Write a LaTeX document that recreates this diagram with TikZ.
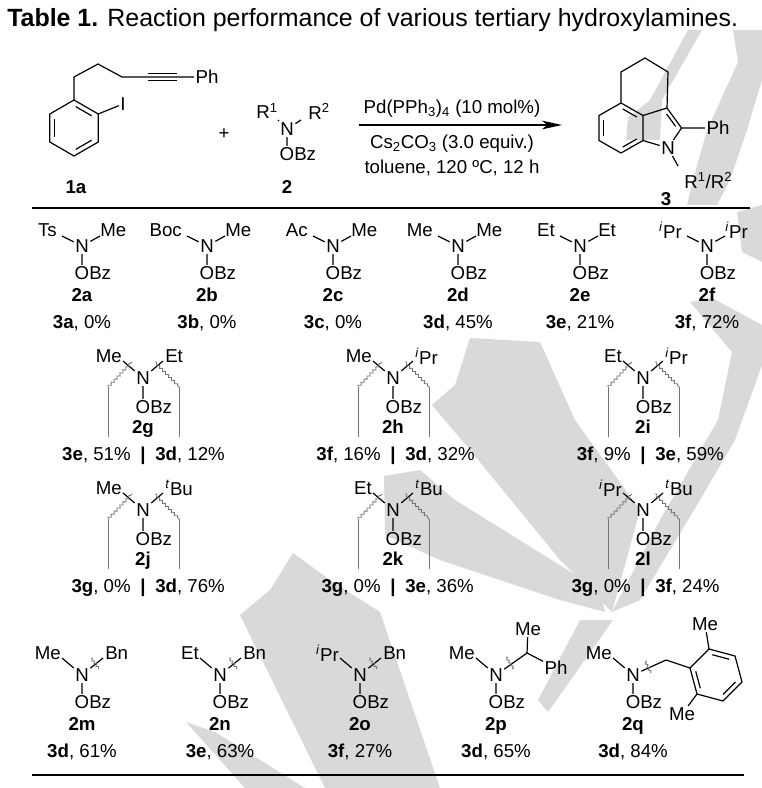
\documentclass[tikz,border=0pt]{standalone}
\usepackage{fontspec}
\setmainfont{Liberation Sans}
\usetikzlibrary{calc,arrows.meta,decorations.pathmorphing}

\tikzset{
  atom/.style={inner sep=1pt},
  lab/.style={inner sep=0pt},
  bond/.style={line width=0.9pt},
  dbl/.style={line width=0.9pt, shorten <=1.5pt, shorten >=1.5pt},
  brk/.style={draw=black!55, line width=0.6pt},
  wav/.style={draw=black!55, line width=0.6pt, decorate,
    decoration={snake, amplitude=0.9pt, segment length=3.2pt}},
  wm/.style={fill=black!15, draw=none},
}

% hydroxylamine, flat bonds (first row)
\newcommand{\hxflat}[7]{%
  \node[atom] (#1N) at (#2,#3) {N};
  \node[atom] (#1O) at (#2,#3+27) {O\rlap{Bz}};
  \node[lab,anchor=east] (#1L) at (#2-25,#3-16) {#4};
  \node[lab,anchor=west] (#1R) at (#2+18,#3-16) {#5};
  \coordinate (#1l) at (#2-20,#3-10);
  \coordinate (#1r) at (#2+18,#3-10);
  \draw[bond] (#1N) -- (#1l) (#1N) -- (#1r) (#1N) -- (#1O);
  \node[lab,anchor=base] (#1c) at (#2,#3+55) {\textbf{#6}};
  \node[lab,anchor=base] (#1y) at (#2,#3+82) {#7};
}

% hydroxylamine with two cleavage brackets
\newcommand{\hxpair}[8]{%
  \node[atom] (#1N) at (#2,#3) {N};
  \node[atom] (#1O) at (#2,#3+29) {O\rlap{Bz}};
  \node[lab,anchor=east] (#1L) at (#2-21,#3-22) {#4};
  \node[lab,anchor=west] (#1R) at (#2+22,#3-22) {#5};
  \coordinate (#1l) at (#2-20,#3-17);
  \coordinate (#1r) at (#2+20,#3-17);
  \draw[bond] (#1N) -- (#1l) (#1N) -- (#1r) (#1N) -- (#1O);
  \coordinate (#1wl) at (#2-35,#3+9);
  \coordinate (#1wr) at (#2+36,#3+9);
  \coordinate (#1tl) at (#2-11,#3-16);
  \coordinate (#1tr) at (#2+12,#3-16);
  \coordinate (#1bl) at (#2-35,#3+59);
  \coordinate (#1br) at (#2+36,#3+59);
  \draw[wav] (#1wl) -- (#1tl);
  \draw[wav] (#1tr) -- (#1wr);
  \draw[brk] (#1wl) -- (#1bl) (#1wr) -- (#1br);
  \node[lab,anchor=base] (#1c) at (#2,#3+55) {\textbf{#6}};
  \node[lab,anchor=base east] (#1ya) at (#2-12,#3+82) {#7};
  \node[lab,anchor=base] (#1bar) at (#2,#3+82) {\textbf{|}};
  \node[lab,anchor=base west] (#1yb) at (#2+12,#3+82) {#8};
}

% hydroxylamine, N-benzyl bond cut
\newcommand{\hxcut}[6]{%
  \node[atom] (#1N) at (#2,#3) {N};
  \node[atom] (#1O) at (#2,#3+27) {O\rlap{Bz}};
  \node[lab,anchor=east] (#1L) at (#2-21,#3-22) {#4};
  \node[lab,anchor=west] (#1R) at (#2+23,#3-22) {Bn};
  \coordinate (#1l) at (#2-20,#3-17);
  \coordinate (#1r) at (#2+21,#3-17);
  \draw[bond] (#1N) -- (#1l) (#1N) -- (#1r) (#1N) -- (#1O);
  \coordinate (#1sa) at (#2+9,#3-17);
  \coordinate (#1sb) at (#2+17,#3-6);
  \draw[wav,decoration={amplitude=0.8pt,segment length=2.6pt}] (#1sa) -- (#1sb);
  \node[lab,anchor=base] (#1c) at (#2,#3+55) {\textbf{#5}};
  \node[lab,anchor=base] (#1y) at (#2,#3+82) {#6};
}

\newcommand{\ipr}{\textsuperscript{\textit{i}}Pr}
\newcommand{\tbu}{\textsuperscript{\textit{t}}Bu}

\begin{document}
\begin{tikzpicture}[x=0.75pt,y=-0.75pt,font=\fontsize{14}{16}\selectfont]
\useasboundingbox (0,0) rectangle (762,788);

% watermark
\fill[wm] (688,30) -- (702,30) -- (662,100) -- (660,140) -- (626,140) -- (628,118) -- (650,100) -- cycle;
\fill[wm] (733,30) -- (762,30) -- (762,80) -- (747,130) -- (730,180) -- (717,205) -- (687,205) -- (693,180) -- (707,130) -- (738,62) -- cycle;
\fill[wm] (737,212) -- (762,205) -- (762,262) -- (742,252) -- cycle;
\fill[wm] (690,302) -- (712,298) -- (762,325) -- (762,365) -- (735,440) -- (700,500) -- (640,600) -- (612,612) -- (660,520) -- (718,420) -- (732,352) -- cycle;
\fill[wm] (470,338) -- (540,342) -- (575,420) -- (640,510) -- (612,612) -- (560,560) -- (470,450) -- (432,405) -- (455,385) -- cycle;
\fill[wm] (384,476) -- (420,470) -- (455,500) -- (600,590) -- (605,612) -- (560,600) -- (440,560) -- (385,535) -- cycle;
\fill[wm] (293,553) -- (330,580) -- (380,612) -- (440,788) -- (325,788) -- (240,615) -- (270,590) -- cycle;
\fill[wm] (186,722) -- (215,732) -- (305,788) -- (245,788) -- cycle;
\fill[wm] (580,620) -- (613,620) -- (548,712) -- (538,700) -- cycle;

% title
\node[lab,anchor=base west,font=\fontsize{18.7}{22}\selectfont] (title) at (7,27)
  {\textbf{Table 1.} Reaction performance of various tertiary hydroxylamines.};

% substrate 1a
\coordinate (c1) at (74,128);
\coordinate (r1) at (74,100);
\coordinate (r2) at (98.2,114);
\coordinate (r3) at (98.2,142);
\coordinate (r4) at (74,156);
\coordinate (r5) at (49.8,142);
\coordinate (r6) at (49.8,114);
\draw[bond] (r1) -- (r2) -- (r3) -- (r4) -- (r5) -- (r6) -- cycle;
\draw[dbl] ($(r1)!.2!(c1)$) -- ($(r2)!.2!(c1)$);
\draw[dbl] ($(r3)!.2!(c1)$) -- ($(r4)!.2!(c1)$);
\draw[dbl] ($(r5)!.2!(c1)$) -- ($(r6)!.2!(c1)$);
\coordinate (a1) at (74,77);
\coordinate (a2) at (98,64);
\coordinate (a3) at (122,77);
\coordinate (a4) at (148,77);
\coordinate (a5) at (177,77);
\node[atom] (ph1) at (207,77) {Ph};
\node[atom] (io) at (123,104) {I};
\draw[bond] (r1) -- (a1) -- (a2) -- (a3) -- (a4) -- (a5) -- (ph1);
\draw[bond] ($(a4)+(0,-3.5)$) -- ($(a5)+(0,-3.5)$);
\draw[bond] ($(a4)+(0,3.5)$) -- ($(a5)+(0,3.5)$);
\draw[bond] (r2) -- (io);
\node[lab,anchor=base] (lab1a) at (76,193) {\textbf{1a}};

\node[lab] (plus) at (224,134) {+};

% reagent 2
\node[atom] (gN) at (287,129) {N};
\node[atom] (gO) at (287,154) {O\rlap{Bz}};
\node[lab,anchor=east] (gL) at (278,111) {R\textsuperscript{1}};
\node[lab,anchor=west] (gR) at (308,111) {R\textsuperscript{2}};
\coordinate (gl) at (278,120);
\coordinate (gr) at (301,120);
\draw[bond] (gN) -- (gl) (gN) -- (gr) (gN) -- (gO);
\node[lab,anchor=base] (lab2) at (287,193) {\textbf{2}};

% arrow and conditions
\coordinate (arrS) at (359,125);
\coordinate (arrE) at (562,125);
\draw[line width=1.1pt,-{Stealth[length=15pt,width=6.5pt,inset=4pt]}] (arrS) -- (arrE);
\node[lab,anchor=base] (cond1) at (452,114) {Pd(PPh\textsubscript{3})\textsubscript{4} (10 mol\%)};
\node[lab,anchor=base] (cond2) at (452,149) {Cs\textsubscript{2}CO\textsubscript{3} (3.0 equiv.)};
\node[lab,anchor=base] (cond3) at (452,174) {toluene, 120 ºC, 12 h};

% product 3
\coordinate (bc) at (621,128);
\coordinate (pc) at (660,128);
\coordinate (p4) at (621,103);
\coordinate (p5) at (599,115.5);
\coordinate (p6) at (599,140.5);
\coordinate (p7) at (621,153);
\coordinate (p7a) at (643,140.5);
\coordinate (p3a) at (643,115.5);
\coordinate (p3) at (667,108);
\coordinate (p2) at (681.5,128);
\coordinate (pa) at (621,72);
\coordinate (pb) at (645,58);
\coordinate (pc6) at (668,72);
\node[atom] (pN) at (668,148) {N};
\node[atom] (ph3) at (718,128) {Ph};
\node[lab,anchor=west] (pR) at (684,181) {R\textsuperscript{1}/R\textsuperscript{2}};
\coordinate (pRb) at (678,166);
\draw[bond] (p4) -- (p5) -- (p6) -- (p7) -- (p7a) -- (p3a) -- cycle;
\draw[bond] (p7a) -- (pN) -- (p2) -- (p3) -- (p3a);
\draw[bond] (p4) -- (pa) -- (pb) -- (pc6) -- (p3);
\draw[bond] (p2) -- (ph3) (pN) -- (pRb);
\draw[dbl] ($(p5)!.2!(bc)$) -- ($(p6)!.2!(bc)$);
\draw[dbl] ($(p7)!.2!(bc)$) -- ($(p7a)!.2!(bc)$);
\draw[dbl] ($(p4)!.2!(bc)$) -- ($(p3a)!.2!(bc)$);
\draw[dbl] ($(p2)!.22!(pc)$) -- ($(p3)!.22!(pc)$);
\node[lab,anchor=base] (lab3) at (666,205) {\textbf{3}};

% rules
\draw[line width=1.1pt] (32,208) -- (750,208);
\draw[line width=1.1pt] (32,775) -- (744,775);

% first row
\hxflat{a}{82}{246}{Ts}{Me}{2a}{\textbf{3a}, 0\%}
\hxflat{b}{207}{246}{Boc}{Me}{2b}{\textbf{3b}, 0\%}
\hxflat{c}{333}{246}{Ac}{Me}{2c}{\textbf{3c}, 0\%}
\hxflat{d}{458}{246}{Me}{Me}{2d}{\textbf{3d}, 45\%}
\hxflat{e}{580}{246}{Et}{Et}{2e}{\textbf{3e}, 21\%}
\hxflat{f}{707}{246}{\ipr}{\ipr}{2f}{\textbf{3f}, 72\%}

% second and third rows
\hxpair{g}{143}{378}{Me}{Et}{2g}{\textbf{3e}, 51\%}{\textbf{3d}, 12\%}
\hxpair{h}{393}{378}{Me}{\ipr}{2h}{\textbf{3f}, 16\%}{\textbf{3d}, 32\%}
\hxpair{i}{643}{378}{Et}{\ipr}{2i}{\textbf{3f}, 9\%}{\textbf{3e}, 59\%}
\hxpair{j}{143}{510}{Me}{\tbu}{2j}{\textbf{3g}, 0\%}{\textbf{3d}, 76\%}
\hxpair{k}{393}{510}{Et}{\tbu}{2k}{\textbf{3g}, 0\%}{\textbf{3e}, 36\%}
\hxpair{l}{643}{510}{\ipr}{\tbu}{2l}{\textbf{3g}, 0\%}{\textbf{3f}, 24\%}

% last row
\hxcut{m}{82}{675}{Me}{2m}{\textbf{3d}, 61\%}
\hxcut{n}{220}{675}{Et}{2n}{\textbf{3e}, 63\%}
\hxcut{o}{360}{675}{\ipr}{2o}{\textbf{3f}, 27\%}

% 2p
\node[atom] (pN2) at (496,675) {N};
\node[atom] (pO2) at (496,702) {O\rlap{Bz}};
\node[lab,anchor=east] (pL2) at (475,653) {Me};
\coordinate (pl2) at (476,658);
\coordinate (pch) at (527,653);
\node[atom] (pMe2) at (528,629) {Me};
\node[atom] (pPh2) at (556,668) {Ph};
\draw[bond] (pN2) -- (pl2) (pN2) -- (pch) (pN2) -- (pO2);
\draw[bond] (pch) -- (pMe2) (pch) -- (pPh2);
\coordinate (psa) at (506,657);
\coordinate (psb) at (514,669);
\draw[wav,decoration={amplitude=0.8pt,segment length=2.6pt}] (psa) -- (psb);
\node[lab,anchor=base] (pc2) at (496,730) {\textbf{2p}};
\node[lab,anchor=base] (py2) at (496,757) {\textbf{3d}, 65\%};

% 2q
\node[atom] (qN) at (633,675) {N};
\node[atom] (qO) at (633,702) {O\rlap{Bz}};
\node[lab,anchor=east] (qL) at (612,653) {Me};
\coordinate (ql) at (613,658);
\coordinate (qch) at (666,660);
\coordinate (qc) at (716,675);
\coordinate (q1) at (690,668);
\coordinate (q2) at (709,649);
\coordinate (q3) at (735,656);
\coordinate (q4) at (742,682);
\coordinate (q5) at (723,701);
\coordinate (q6) at (697,694);
\node[atom] (qMe1) at (705,624) {Me};
\node[atom] (qMe2) at (682,714) {Me};
\draw[bond] (qN) -- (ql) (qN) -- (qch) (qN) -- (qO);
\draw[bond] (qch) -- (q1);
\draw[bond] (q1) -- (q2) -- (q3) -- (q4) -- (q5) -- (q6) -- cycle;
\draw[bond] (q2) -- (qMe1) (q6) -- (qMe2);
\draw[dbl] ($(q1)!.2!(qc)$) -- ($(q6)!.2!(qc)$);
\draw[dbl] ($(q2)!.2!(qc)$) -- ($(q3)!.2!(qc)$);
\draw[dbl] ($(q4)!.2!(qc)$) -- ($(q5)!.2!(qc)$);
\coordinate (qsa) at (645,661);
\coordinate (qsb) at (651,673);
\draw[wav,decoration={amplitude=0.8pt,segment length=2.6pt}] (qsa) -- (qsb);
\node[lab,anchor=base] (qc2) at (633,730) {\textbf{2q}};
\node[lab,anchor=base] (qy2) at (633,757) {\textbf{3d}, 84\%};
\end{tikzpicture}
\end{document}
